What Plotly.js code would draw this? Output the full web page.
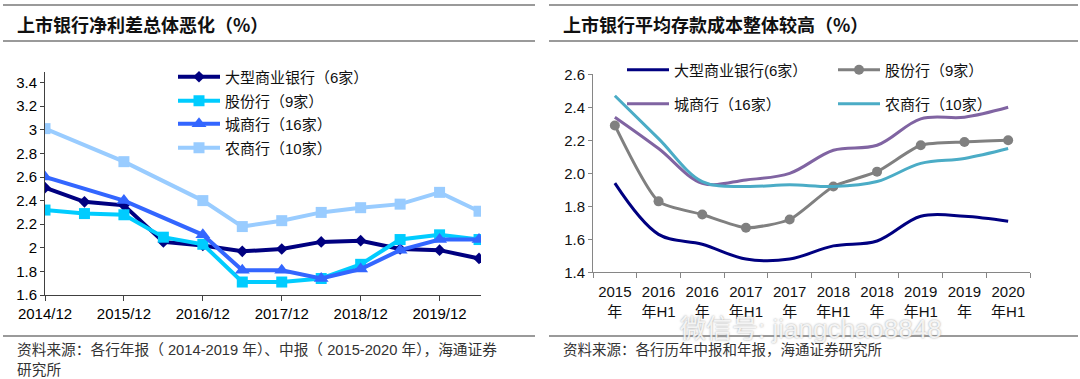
<!DOCTYPE html>
<html><head><meta charset="utf-8">
<script src="https://cdn.plot.ly/plotly-3.0.1.min.js"></script>
<style>html,body{margin:0;padding:0;background:#fff}#chart{width:1080px;height:379px}</style>
</head><body><div id="chart"></div>
<script>
// ---------- Left chart data: net interest spread (%) ----------
const leftDates = ["2014/12","2015/6","2015/12","2016/6","2016/12","2017/6","2017/12","2018/6","2018/12","2019/6","2019/12","2020/6"];
const leftTickLabels = ["2014/12","2015/12","2016/12","2017/12","2018/12","2019/12"];
const leftLarge = [2.51, 2.39, 2.36, 2.05, 2.02, 1.97, 1.99, 2.05, 2.06, 1.99, 1.98, 1.91];
const leftJoint = [2.32, 2.29, 2.28, 2.09, 2.03, 1.71, 1.71, 1.74, 1.86, 2.07, 2.11, 2.07];
const leftCity  = [2.60, null, 2.40, null, 2.11, 1.81, 1.81, 1.74, 1.82, 1.98, 2.07, 2.07];
const leftRural = [3.01, null, 2.73, null, 2.40, 2.18, 2.23, 2.30, 2.34, 2.37, 2.47, 2.31];
const leftNames = ["大型商业银行（6家）","股份行（9家）","城商行（16家）","农商行（10家）"];

// ---------- Right chart data: average deposit cost (%) ----------
const rightPeriods = ["2015年","2016年H1","2016年","2017年H1","2017年","2018年H1","2018年","2019年H1","2019年","2020年H1"];
const rightTickLabels = ["2015<br>年","2016<br>年H1","2016<br>年","2017<br>年H1","2017<br>年","2018<br>年H1","2018<br>年","2019<br>年H1","2019<br>年","2020<br>年H1"];
const rightLarge = [1.94, 1.63, 1.57, 1.48, 1.48, 1.56, 1.59, 1.74, 1.74, 1.71];
const rightJoint = [2.29, 1.83, 1.75, 1.67, 1.72, 1.92, 2.01, 2.17, 2.19, 2.20];
const rightCity  = [2.34, 2.15, 1.94, 1.96, 2.00, 2.14, 2.17, 2.33, 2.34, 2.40];
const rightRural = [2.47, 2.21, 1.95, 1.92, 1.93, 1.92, 1.95, 2.06, 2.09, 2.15];
const rightNames = ["大型商业银行(6家）","股份行（9家）","城商行（16家）","农商行（10家）"];

const W = 1080, H = 379;
const px = x => x / W, py = y => 1 - y / H;
const FONT = "Liberation Sans, Arial, Noto Sans CJK SC, sans-serif";
const leftIdx = leftDates.map((d, i) => i);
const leftTickVals = leftTickLabels.map(t => leftDates.indexOf(t));

const traces = [
  {x:leftIdx, y:leftLarge, xaxis:'x', yaxis:'y', name:leftNames[0], legend:'legend', mode:'lines+markers', connectgaps:true,
   line:{color:'#000080', width:4}, marker:{symbol:'diamond', size:9, color:'#000080'}},
  {x:leftIdx, y:leftJoint, xaxis:'x', yaxis:'y', name:leftNames[1], legend:'legend2', mode:'lines+markers', connectgaps:true,
   line:{color:'#00CCFF', width:4}, marker:{symbol:'square', size:11, color:'#00CCFF'}},
  {x:leftIdx, y:leftCity, xaxis:'x', yaxis:'y', name:leftNames[2], legend:'legend3', mode:'lines+markers', connectgaps:true,
   line:{color:'#3366FF', width:4}, marker:{symbol:'triangle-up', size:13, color:'#3366FF'}},
  {x:leftIdx, y:leftRural, xaxis:'x', yaxis:'y', name:leftNames[3], legend:'legend4', mode:'lines+markers', connectgaps:true,
   line:{color:'#99CCFF', width:4}, marker:{symbol:'square', size:11, color:'#99CCFF'}},

  {x:rightPeriods, y:rightLarge, xaxis:'x2', yaxis:'y2', name:rightNames[0], legend:'legend5', mode:'lines',
   line:{color:'#000080', width:3, shape:'spline', smoothing:1}},
  {x:rightPeriods, y:rightJoint, xaxis:'x2', yaxis:'y2', name:rightNames[1], legend:'legend6', mode:'lines+markers',
   line:{color:'#808080', width:3, shape:'spline', smoothing:0.6}, marker:{symbol:'circle', size:10, color:'#808080'}},
  {x:rightPeriods, y:rightCity, xaxis:'x2', yaxis:'y2', name:rightNames[2], legend:'legend7', mode:'lines',
   line:{color:'#8064A2', width:3, shape:'spline', smoothing:1}},
  {x:rightPeriods, y:rightRural, xaxis:'x2', yaxis:'y2', name:rightNames[3], legend:'legend8', mode:'lines',
   line:{color:'#4BACC6', width:3, shape:'spline', smoothing:1}}
];

function leg(xPix, yPix, size) {
  return {x:px(xPix), y:py(yPix), xanchor:'left', yanchor:'middle', bgcolor:'rgba(0,0,0,0)',
          borderwidth:0, font:{family:FONT, size:size, color:'#111'}, itemwidth:42};
}

const rule = (x0, x1, y) => ({type:'line', xref:'paper', yref:'paper', x0:px(x0), x1:px(x1), y0:py(y), y1:py(y),
  line:{color:'#9a9a9a', width:2}});

const layout = {
  width:W, height:H, margin:{l:0, r:0, t:0, b:0}, paper_bgcolor:'#fff', plot_bgcolor:'rgba(0,0,0,0)',
  font:{family:FONT, color:'#000'},
  showlegend:true,
  xaxis:{domain:[px(45), px(481)], range:[0, 11.05], tickvals:leftTickVals, ticktext:leftTickLabels,
    showgrid:false, zeroline:false, showline:true, linecolor:'#404040', linewidth:1,
    ticks:'outside', ticklen:5, tickcolor:'#404040', tickfont:{size:15, color:'#000'}, fixedrange:true},
  yaxis:{domain:[py(295), py(72)], range:[1.6, 3.49], dtick:0.2, tick0:1.6, anchor:'x',
    showgrid:false, zeroline:false, showline:true, linecolor:'#404040', linewidth:1,
    ticks:'outside', ticklen:4, tickcolor:'#404040', tickfont:{size:15, color:'#000'}},
  xaxis2:{domain:[px(593), px(1030)], type:'category', range:[-0.5, 9.5], tickvals:rightPeriods, ticktext:rightTickLabels,
    tickson:'boundaries', anchor:'y2', ticklabelstandoff:6,
    showgrid:false, zeroline:false, showline:true, linecolor:'#868686', linewidth:1,
    ticks:'outside', ticklen:5, tickcolor:'#868686', tickfont:{size:15, color:'#111'}},
  yaxis2:{domain:[py(272.3), py(74.3)], range:[1.4, 2.6], dtick:0.2, tick0:1.4, tickformat:'.1f', anchor:'x2',
    showgrid:false, zeroline:false, showline:true, linecolor:'#868686', linewidth:1,
    ticks:'outside', ticklen:4, tickcolor:'#868686', tickfont:{size:15, color:'#111'}},
  legend:  leg(173, 77, 15),
  legend2: leg(173, 101, 15),
  legend3: leg(173, 124, 15),
  legend4: leg(173, 148, 15),
  legend5: leg(622, 70, 15),
  legend6: leg(833, 70, 15),
  legend7: leg(622, 104, 15),
  legend8: leg(833, 104, 15),
  shapes:[
    rule(3, 535, 5), rule(3, 535, 41), rule(3, 535, 336),
    rule(549, 1078, 5), rule(549, 1078, 41), rule(549, 1078, 336)
  ],
  annotations:[
    {xref:'paper', yref:'paper', x:px(15), y:py(24), xanchor:'left', yanchor:'middle', showarrow:false,
     text:'<b>上市银行净利差总体恶化（%）</b>', font:{family:'Noto Sans CJK SC, sans-serif', size:18, color:'#111'}},
    {xref:'paper', yref:'paper', x:px(561), y:py(24), xanchor:'left', yanchor:'middle', showarrow:false,
     text:'<b>上市银行平均存款成本整体较高（%）</b>', font:{family:'Noto Sans CJK SC, sans-serif', size:18, color:'#111'}},
    {xref:'paper', yref:'paper', x:px(15), y:py(350), xanchor:'left', yanchor:'middle', showarrow:false,
     text:'资料来源：各行年报（ 2014-2019 年）、中报（ 2015-2020 年），海通证券', font:{family:FONT, size:14.7, color:'#333'}},
    {xref:'paper', yref:'paper', x:px(15), y:py(370), xanchor:'left', yanchor:'middle', showarrow:false,
     text:'研究所', font:{family:FONT, size:14.7, color:'#333'}},
    {xref:'paper', yref:'paper', x:px(561), y:py(350), xanchor:'left', yanchor:'middle', showarrow:false,
     text:'资料来源：各行历年中报和年报，海通证券研究所', font:{family:FONT, size:14.5, color:'#333'}},
    {xref:'paper', yref:'paper', x:px(678), y:py(329), xanchor:'left', yanchor:'middle', showarrow:false,
     text:'微信号: jiangchao8848', font:{family:FONT, size:26, color:'rgba(255,255,255,0.85)', shadow:'0 0 2px #888'}}
  ]
};

Plotly.newPlot('chart', traces, layout, {staticPlot:true, displayModeBar:false});
</script></body></html>
